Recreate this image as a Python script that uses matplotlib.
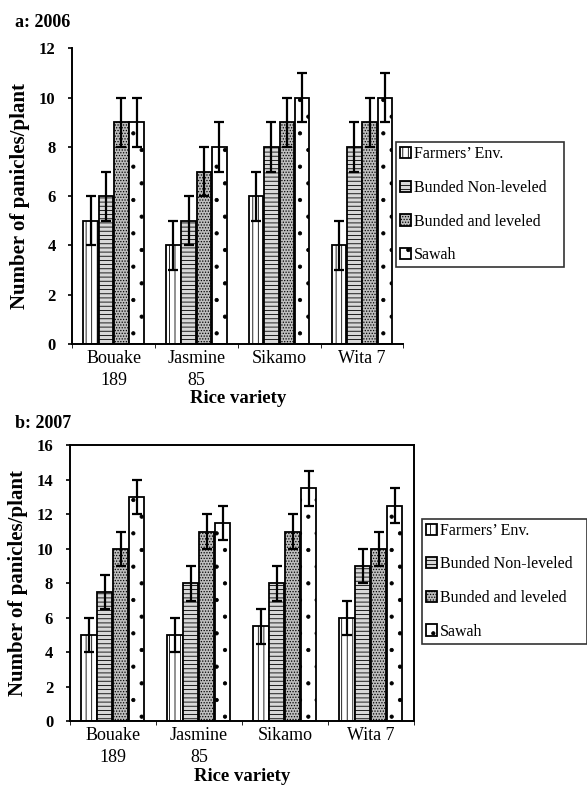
import matplotlib.pyplot as plt
import numpy as np

varieties = ["Bouake\n189", "Jasmine\n85", "Sikamo", "Wita 7"]
treatments = ["Farmers\u2019 Env.", "Bunded Non-leveled", "Bunded and leveled", "Sawah"]

# panicles per plant, one list per treatment (order follows varieties)
p2006 = [
    [5, 4, 6, 4],
    [6, 5, 8, 8],
    [9, 7, 9, 9],
    [9, 8, 10, 10],
]
err2006 = [
    [1, 1, 1, 1],
    [1, 1, 1, 1],
    [1, 1, 1, 1],
    [1, 1, 1, 1],
]
p2007 = [
    [5, 5, 5.5, 6],
    [7.5, 8, 8, 9],
    [10, 11, 11, 10],
    [13, 11.5, 13.5, 12.5],
]
err2007 = [
    [1, 1, 1, 1],
    [1, 1, 1, 1],
    [1, 1, 1, 1],
    [1, 1, 1, 1],
]

hatches = ["|||", "----", "......", "."]
faces = ["white", "#d8d8d8", "#bdbdbd", "white"]

plt.rcParams["font.family"] = ["Liberation Serif", "DejaVu Serif"]
plt.rcParams["hatch.linewidth"] = 0.6


def draw_panel(ax, values, errors, ymax, title, box, legend_box):
    x = np.arange(len(varieties))
    width = 0.185
    bars = []
    for i, (vals, errs) in enumerate(zip(values, errors)):
        offset = width * (i - 1.5)
        b = ax.bar(
            x + offset, vals, width * 0.95, color=faces[i], edgecolor="black",
            linewidth=1.3, hatch=hatches[i], label=treatments[i],
        )
        ax.errorbar(
            x + offset, vals, yerr=errs, fmt="none", ecolor="black",
            elinewidth=1.6, capsize=3.5, capthick=1.6,
        )
        bars.append(b)

    ax.set_xlim(-0.5, len(varieties) - 0.5)
    ax.set_ylim(0, ymax)
    ax.set_yticks(np.arange(0, ymax + 1, 2))
    ax.set_xticks(x)
    ax.set_xticklabels(varieties, fontsize=13, linespacing=1.4, va="top")
    ax.set_xticks(np.arange(-0.5, len(varieties)), minor=True)
    ax.tick_params(axis="x", which="major", length=0, pad=4)
    ax.tick_params(axis="x", which="minor", length=3, direction="out")
    ax.tick_params(axis="y", labelsize=12, length=3, direction="out",
                   width=1.2, pad=9)
    for lbl in ax.get_yticklabels():
        lbl.set_fontweight("bold")
    ax.set_xlabel("Rice variety", fontsize=13.5, fontweight="bold", labelpad=1)
    ax.set_ylabel("Number of panicles/plant", fontsize=15, fontweight="bold",
                  labelpad=6)
    for s in ax.spines.values():
        s.set_linewidth(1.4)
    if not box:
        ax.spines["top"].set_visible(False)
        ax.spines["right"].set_visible(False)

    ax.figure.text(title[1], title[2], title[0], fontsize=13, fontweight="bold")

    leg = ax.figure.legend(
        handles=bars, loc="upper left", bbox_to_anchor=legend_box,
        mode="expand", bbox_transform=ax.figure.transFigure, fontsize=11.5,
        frameon=True, fancybox=False, edgecolor="black", handlelength=0.7,
        handleheight=0.7, handletextpad=0.15, labelspacing=1.1,
        borderaxespad=0, borderpad=0.25,
    )
    leg.get_frame().set_linewidth(1.2)


fig = plt.figure(figsize=(5.87, 7.91), dpi=100)
ax1 = fig.add_axes([0.123, 0.565, 0.564, 0.374])
ax2 = fig.add_axes([0.119, 0.088, 0.586, 0.349])

draw_panel(ax1, p2006, err2006, 12, ("a: 2006", 0.025, 0.966), False,
           (0.675, 0.662, 0.286, 0.158))
draw_panel(ax2, p2007, err2007, 16, ("b: 2007", 0.025, 0.459), True,
           (0.719, 0.185, 0.281, 0.159))

fig.savefig("out.png", dpi=100)
